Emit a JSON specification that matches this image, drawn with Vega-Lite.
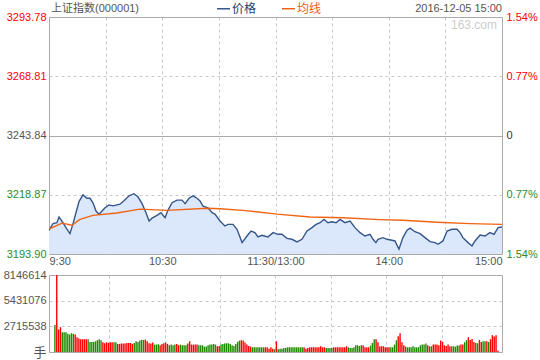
{
  "$schema": "https://vega.github.io/schema/vega-lite/v6.json",
  "padding": {"left": 2, "top": 0, "right": 2, "bottom": 2},
  "background": "white",
  "config": {
    "font": "Liberation Sans, Noto Sans CJK SC, sans-serif",
    "view": {"stroke": "#aaaaaa", "strokeWidth": 1},
    "axis": {"labelFont": "Liberation Sans, Noto Sans CJK SC", "labelFontSize": 11, "labelColor": "#555555", "ticks": false, "domain": false, "title": null, "labelOverlap": false}
  },
  "spacing": 21,
  "bounds": "flush",
  "resolve": {"scale": {"color": "independent"}, "legend": {"color": "independent"}},
  "datasets": {
    "line": [
      {"m":0,"v":3203.9,"s":"价格"},{"m":2.1,"v":3206.7,"s":"价格"},{"m":4.2,"v":3207.1,"s":"价格"},{"m":5.3,"v":3209.5,"s":"价格"},{"m":7.4,"v":3207.1,"s":"价格"},{"m":9.0,"v":3205.0,"s":"价格"},{"m":11.1,"v":3202.5,"s":"价格"},{"m":12.7,"v":3206.6,"s":"价格"},{"m":14.3,"v":3211.3,"s":"价格"},{"m":15.9,"v":3216.0,"s":"价格"},{"m":18.0,"v":3218.8,"s":"价格"},{"m":20.1,"v":3217.4,"s":"价格"},{"m":21.7,"v":3217.4,"s":"价格"},{"m":23.3,"v":3215.5,"s":"价格"},{"m":24.9,"v":3212.0,"s":"价格"},{"m":26.5,"v":3210.7,"s":"价格"},{"m":28.1,"v":3212.0,"s":"价格"},{"m":29.7,"v":3213.4,"s":"价格"},{"m":31.8,"v":3214.6,"s":"价格"},{"m":33.9,"v":3214.2,"s":"价格"},{"m":37.6,"v":3214.9,"s":"价格"},{"m":39.7,"v":3216.3,"s":"价格"},{"m":42.4,"v":3218.4,"s":"价格"},{"m":45.0,"v":3219.3,"s":"价格"},{"m":47.2,"v":3217.9,"s":"价格"},{"m":49.3,"v":3215.1,"s":"价格"},{"m":51.4,"v":3211.3,"s":"价格"},{"m":53.0,"v":3207.8,"s":"价格"},{"m":54.6,"v":3209.0,"s":"价格"},{"m":57.2,"v":3210.2,"s":"价格"},{"m":59.3,"v":3211.3,"s":"价格"},{"m":61.5,"v":3209.2,"s":"价格"},{"m":63.0,"v":3212.3,"s":"价格"},{"m":65.2,"v":3215.5,"s":"价格"},{"m":67.8,"v":3216.6,"s":"价格"},{"m":70.5,"v":3216.6,"s":"价格"},{"m":72.1,"v":3215.1,"s":"价格"},{"m":74.2,"v":3217.4,"s":"价格"},{"m":76.3,"v":3218.4,"s":"价格"},{"m":78.4,"v":3217.4,"s":"价格"},{"m":80.0,"v":3216.3,"s":"价格"},{"m":81.6,"v":3214.1,"s":"价格"},{"m":84.2,"v":3213.4,"s":"价格"},{"m":86.4,"v":3211.3,"s":"价格"},{"m":87.9,"v":3210.7,"s":"价格"},{"m":90.6,"v":3207.8,"s":"价格"},{"m":93.2,"v":3205.7,"s":"价格"},{"m":94.8,"v":3206.4,"s":"价格"},{"m":97.5,"v":3206.4,"s":"价格"},{"m":99.6,"v":3204.3,"s":"价格"},{"m":102.3,"v":3198.7,"s":"价格"},{"m":104.9,"v":3201.5,"s":"价格"},{"m":107.0,"v":3203.6,"s":"价格"},{"m":109.1,"v":3202.9,"s":"价格"},{"m":110.7,"v":3201.1,"s":"价格"},{"m":112.8,"v":3201.8,"s":"价格"},{"m":116.0,"v":3201.1,"s":"价格"},{"m":118.7,"v":3202.9,"s":"价格"},{"m":121.3,"v":3202.2,"s":"价格"},{"m":123.4,"v":3202.2,"s":"价格"},{"m":126.1,"v":3200.5,"s":"价格"},{"m":128.7,"v":3200.1,"s":"价格"},{"m":131.4,"v":3199.0,"s":"价格"},{"m":134.0,"v":3200.1,"s":"价格"},{"m":136.7,"v":3203.6,"s":"价格"},{"m":139.3,"v":3205.0,"s":"价格"},{"m":141.5,"v":3206.4,"s":"价格"},{"m":143.6,"v":3207.1,"s":"价格"},{"m":145.7,"v":3208.5,"s":"价格"},{"m":147.8,"v":3207.1,"s":"价格"},{"m":149.9,"v":3207.5,"s":"价格"},{"m":152.1,"v":3207.1,"s":"价格"},{"m":154.2,"v":3208.5,"s":"价格"},{"m":156.8,"v":3207.1,"s":"价格"},{"m":159.5,"v":3207.8,"s":"价格"},{"m":162.1,"v":3205.0,"s":"价格"},{"m":164.8,"v":3202.9,"s":"价格"},{"m":167.4,"v":3201.5,"s":"价格"},{"m":170.1,"v":3202.2,"s":"价格"},{"m":171.7,"v":3200.1,"s":"价格"},{"m":173.2,"v":3198.7,"s":"价格"},{"m":174.3,"v":3200.1,"s":"价格"},{"m":177.0,"v":3200.8,"s":"价格"},{"m":179.1,"v":3200.1,"s":"价格"},{"m":181.7,"v":3199.7,"s":"价格"},{"m":183.3,"v":3199.4,"s":"价格"},{"m":185.4,"v":3195.9,"s":"价格"},{"m":187.5,"v":3200.8,"s":"价格"},{"m":189.7,"v":3203.9,"s":"价格"},{"m":191.3,"v":3204.8,"s":"价格"},{"m":193.9,"v":3203.3,"s":"价格"},{"m":196.6,"v":3202.5,"s":"价格"},{"m":199.2,"v":3200.8,"s":"价格"},{"m":201.9,"v":3199.1,"s":"价格"},{"m":204.5,"v":3198.7,"s":"价格"},{"m":206.1,"v":3198.0,"s":"价格"},{"m":208.7,"v":3199.4,"s":"价格"},{"m":210.9,"v":3203.6,"s":"价格"},{"m":213.5,"v":3204.3,"s":"价格"},{"m":216.2,"v":3204.3,"s":"价格"},{"m":217.8,"v":3202.9,"s":"价格"},{"m":219.3,"v":3200.8,"s":"价格"},{"m":222.0,"v":3198.7,"s":"价格"},{"m":224.1,"v":3197.3,"s":"价格"},{"m":225.7,"v":3199.4,"s":"价格"},{"m":228.4,"v":3201.9,"s":"价格"},{"m":231.0,"v":3201.5,"s":"价格"},{"m":233.6,"v":3202.9,"s":"价格"},{"m":235.8,"v":3202.2,"s":"价格"},{"m":237.9,"v":3205.0,"s":"价格"},{"m":240,"v":3205.3,"s":"价格"},
      {"m":0,"v":3204.4,"s":"均线"},{"m":6.9,"v":3206.9,"s":"均线"},{"m":12.2,"v":3206.0,"s":"均线"},{"m":16.4,"v":3208.5,"s":"均线"},{"m":23.3,"v":3210.2,"s":"均线"},{"m":36.0,"v":3211.2,"s":"均线"},{"m":48.2,"v":3212.8,"s":"均线"},{"m":62.5,"v":3212.3,"s":"均线"},{"m":83.7,"v":3213.2,"s":"均线"},{"m":90.6,"v":3213.0,"s":"均线"},{"m":102.8,"v":3212.3,"s":"均线"},{"m":120.8,"v":3210.7,"s":"均线"},{"m":138.3,"v":3209.5,"s":"均线"},{"m":155.8,"v":3209.2,"s":"均线"},{"m":175.4,"v":3208.4,"s":"均线"},{"m":187.5,"v":3208.1,"s":"均线"},{"m":205.6,"v":3207.3,"s":"均线"},{"m":223.0,"v":3206.7,"s":"均线"},{"m":240,"v":3206.4,"s":"均线"}
    ],
    "vol": [
      {"m":0,"vol":2846000,"c":"g"},{"m":1,"vol":8146614,"c":"r"},{"m":2,"vol":2383500,"c":"r"},{"m":3,"vol":2632500,"c":"r"},{"m":4,"vol":2099000,"c":"g"},{"m":5,"vol":2099000,"c":"g"},{"m":6,"vol":2099000,"c":"g"},{"m":7,"vol":1921000,"c":"g"},{"m":8,"vol":1850000,"c":"g"},{"m":9,"vol":1992000,"c":"g"},
      {"m":10,"vol":1921000,"c":"g"},{"m":11,"vol":1850000,"c":"r"},{"m":12,"vol":1565000,"c":"r"},{"m":13,"vol":1423000,"c":"r"},{"m":14,"vol":1352000,"c":"r"},{"m":15,"vol":1352000,"c":"r"},{"m":16,"vol":1352000,"c":"r"},{"m":17,"vol":1352000,"c":"r"},{"m":18,"vol":1352000,"c":"g"},{"m":19,"vol":1067000,"c":"g"},
      {"m":20,"vol":1067000,"c":"g"},{"m":21,"vol":1067000,"c":"g"},{"m":22,"vol":1138000,"c":"g"},{"m":23,"vol":1245000,"c":"g"},{"m":24,"vol":1352000,"c":"g"},{"m":25,"vol":1245000,"c":"g"},{"m":26,"vol":1032000,"c":"r"},{"m":27,"vol":925000,"c":"r"},{"m":28,"vol":1032000,"c":"r"},{"m":29,"vol":960000,"c":"r"},
      {"m":30,"vol":1032000,"c":"r"},{"m":31,"vol":1032000,"c":"r"},{"m":32,"vol":1032000,"c":"g"},{"m":33,"vol":1032000,"c":"g"},{"m":34,"vol":854000,"c":"r"},{"m":35,"vol":854000,"c":"r"},{"m":36,"vol":889000,"c":"r"},{"m":37,"vol":889000,"c":"r"},{"m":38,"vol":889000,"c":"r"},{"m":39,"vol":960000,"c":"r"},
      {"m":40,"vol":960000,"c":"r"},{"m":41,"vol":960000,"c":"r"},{"m":42,"vol":854000,"c":"r"},{"m":43,"vol":960000,"c":"g"},{"m":44,"vol":1138000,"c":"g"},{"m":45,"vol":1067000,"c":"g"},{"m":46,"vol":1210000,"c":"g"},{"m":47,"vol":1281000,"c":"g"},{"m":48,"vol":1281000,"c":"g"},{"m":49,"vol":1316000,"c":"r"},
      {"m":50,"vol":1138000,"c":"r"},{"m":51,"vol":925000,"c":"r"},{"m":52,"vol":889000,"c":"r"},{"m":53,"vol":996000,"c":"r"},{"m":54,"vol":783000,"c":"g"},{"m":55,"vol":783000,"c":"g"},{"m":56,"vol":818000,"c":"g"},{"m":57,"vol":711500,"c":"r"},{"m":58,"vol":854000,"c":"r"},{"m":59,"vol":925000,"c":"r"},
      {"m":60,"vol":996000,"c":"r"},{"m":61,"vol":854000,"c":"r"},{"m":62,"vol":711500,"c":"g"},{"m":63,"vol":783000,"c":"g"},{"m":64,"vol":711500,"c":"g"},{"m":65,"vol":783000,"c":"g"},{"m":66,"vol":854000,"c":"r"},{"m":67,"vol":711500,"c":"r"},{"m":68,"vol":783000,"c":"g"},{"m":69,"vol":711500,"c":"g"},
      {"m":70,"vol":711500,"c":"g"},{"m":71,"vol":711500,"c":"g"},{"m":72,"vol":889000,"c":"r"},{"m":73,"vol":1138000,"c":"r"},{"m":74,"vol":783000,"c":"r"},{"m":75,"vol":783000,"c":"r"},{"m":76,"vol":783000,"c":"r"},{"m":77,"vol":783000,"c":"r"},{"m":78,"vol":711500,"c":"g"},{"m":79,"vol":711500,"c":"g"},
      {"m":80,"vol":711500,"c":"g"},{"m":81,"vol":569000,"c":"g"},{"m":82,"vol":569000,"c":"g"},{"m":83,"vol":711500,"c":"g"},{"m":84,"vol":783000,"c":"g"},{"m":85,"vol":783000,"c":"g"},{"m":86,"vol":854000,"c":"g"},{"m":87,"vol":783000,"c":"g"},{"m":88,"vol":605000,"c":"r"},{"m":89,"vol":640000,"c":"r"},
      {"m":90,"vol":783000,"c":"g"},{"m":91,"vol":854000,"c":"g"},{"m":92,"vol":889000,"c":"g"},{"m":93,"vol":925000,"c":"g"},{"m":94,"vol":925000,"c":"g"},{"m":95,"vol":854000,"c":"g"},{"m":96,"vol":711500,"c":"g"},{"m":97,"vol":640000,"c":"g"},{"m":98,"vol":854000,"c":"g"},{"m":99,"vol":1067000,"c":"g"},
      {"m":100,"vol":1210000,"c":"g"},{"m":101,"vol":1245000,"c":"r"},{"m":102,"vol":1210000,"c":"r"},{"m":103,"vol":996000,"c":"r"},{"m":104,"vol":783000,"c":"r"},{"m":105,"vol":640000,"c":"r"},{"m":106,"vol":569000,"c":"r"},{"m":107,"vol":498000,"c":"g"},{"m":108,"vol":498000,"c":"g"},{"m":109,"vol":498000,"c":"g"},
      {"m":110,"vol":498000,"c":"g"},{"m":111,"vol":498000,"c":"g"},{"m":112,"vol":498000,"c":"g"},{"m":113,"vol":498000,"c":"g"},{"m":114,"vol":498000,"c":"r"},{"m":115,"vol":498000,"c":"r"},{"m":116,"vol":356000,"c":"r"},{"m":117,"vol":498000,"c":"r"},{"m":118,"vol":356000,"c":"r"},{"m":119,"vol":285000,"c":"g"},
      {"m":120,"vol":1138000,"c":"r"},{"m":121,"vol":285000,"c":"g"},{"m":122,"vol":356000,"c":"g"},{"m":123,"vol":356000,"c":"g"},{"m":124,"vol":427000,"c":"g"},{"m":125,"vol":427000,"c":"g"},{"m":126,"vol":498000,"c":"g"},{"m":127,"vol":498000,"c":"g"},{"m":128,"vol":498000,"c":"g"},{"m":129,"vol":498000,"c":"g"},
      {"m":130,"vol":498000,"c":"g"},{"m":131,"vol":498000,"c":"g"},{"m":132,"vol":498000,"c":"g"},{"m":133,"vol":498000,"c":"g"},{"m":134,"vol":498000,"c":"g"},{"m":135,"vol":498000,"c":"r"},{"m":136,"vol":356000,"c":"r"},{"m":137,"vol":427000,"c":"r"},{"m":138,"vol":498000,"c":"r"},{"m":139,"vol":498000,"c":"r"},
      {"m":140,"vol":498000,"c":"r"},{"m":141,"vol":498000,"c":"r"},{"m":142,"vol":498000,"c":"r"},{"m":143,"vol":498000,"c":"r"},{"m":144,"vol":605000,"c":"r"},{"m":145,"vol":498000,"c":"r"},{"m":146,"vol":498000,"c":"r"},{"m":147,"vol":427000,"c":"g"},{"m":148,"vol":427000,"c":"g"},{"m":149,"vol":427000,"c":"g"},
      {"m":150,"vol":427000,"c":"g"},{"m":151,"vol":498000,"c":"r"},{"m":152,"vol":498000,"c":"r"},{"m":153,"vol":498000,"c":"r"},{"m":154,"vol":498000,"c":"r"},{"m":155,"vol":498000,"c":"r"},{"m":156,"vol":498000,"c":"r"},{"m":157,"vol":498000,"c":"r"},{"m":158,"vol":605000,"c":"r"},{"m":159,"vol":498000,"c":"g"},
      {"m":160,"vol":427000,"c":"g"},{"m":161,"vol":427000,"c":"g"},{"m":162,"vol":498000,"c":"g"},{"m":163,"vol":711500,"c":"g"},{"m":164,"vol":711500,"c":"g"},{"m":165,"vol":640000,"c":"g"},{"m":166,"vol":711500,"c":"g"},{"m":167,"vol":711500,"c":"r"},{"m":168,"vol":498000,"c":"r"},{"m":169,"vol":498000,"c":"r"},
      {"m":170,"vol":498000,"c":"r"},{"m":171,"vol":676000,"c":"g"},{"m":172,"vol":960000,"c":"g"},{"m":173,"vol":1352000,"c":"g"},{"m":174,"vol":1352000,"c":"r"},{"m":175,"vol":1032000,"c":"r"},{"m":176,"vol":605000,"c":"r"},{"m":177,"vol":605000,"c":"r"},{"m":178,"vol":605000,"c":"r"},{"m":179,"vol":498000,"c":"r"},
      {"m":180,"vol":498000,"c":"r"},{"m":181,"vol":498000,"c":"r"},{"m":182,"vol":498000,"c":"g"},{"m":183,"vol":498000,"c":"g"},{"m":184,"vol":783000,"c":"g"},{"m":185,"vol":1245000,"c":"g"},{"m":186,"vol":1672000,"c":"r"},{"m":187,"vol":1992000,"c":"r"},{"m":188,"vol":1032000,"c":"r"},{"m":189,"vol":711500,"c":"r"},
      {"m":190,"vol":569000,"c":"g"},{"m":191,"vol":498000,"c":"g"},{"m":192,"vol":498000,"c":"g"},{"m":193,"vol":498000,"c":"g"},{"m":194,"vol":605000,"c":"g"},{"m":195,"vol":498000,"c":"g"},{"m":196,"vol":498000,"c":"g"},{"m":197,"vol":498000,"c":"g"},{"m":198,"vol":711500,"c":"g"},{"m":199,"vol":783000,"c":"g"},
      {"m":200,"vol":783000,"c":"g"},{"m":201,"vol":889000,"c":"g"},{"m":202,"vol":711500,"c":"r"},{"m":203,"vol":605000,"c":"g"},{"m":204,"vol":605000,"c":"g"},{"m":205,"vol":783000,"c":"r"},{"m":206,"vol":783000,"c":"r"},{"m":207,"vol":783000,"c":"r"},{"m":208,"vol":711500,"c":"r"},{"m":209,"vol":1210000,"c":"r"},
      {"m":210,"vol":1067000,"c":"r"},{"m":211,"vol":711500,"c":"r"},{"m":212,"vol":640000,"c":"r"},{"m":213,"vol":783000,"c":"r"},{"m":214,"vol":605000,"c":"r"},{"m":215,"vol":605000,"c":"g"},{"m":216,"vol":605000,"c":"g"},{"m":217,"vol":569000,"c":"g"},{"m":218,"vol":676000,"c":"g"},{"m":219,"vol":676000,"c":"g"},
      {"m":220,"vol":783000,"c":"r"},{"m":221,"vol":783000,"c":"r"},{"m":222,"vol":1032000,"c":"g"},{"m":223,"vol":1245000,"c":"g"},{"m":224,"vol":1565000,"c":"r"},{"m":225,"vol":1281000,"c":"r"},{"m":226,"vol":1387000,"c":"r"},{"m":227,"vol":1067000,"c":"r"},{"m":228,"vol":960000,"c":"g"},{"m":229,"vol":925000,"c":"g"},
      {"m":230,"vol":1281000,"c":"r"},{"m":231,"vol":1067000,"c":"r"},{"m":232,"vol":1138000,"c":"g"},{"m":233,"vol":1138000,"c":"g"},{"m":234,"vol":1138000,"c":"r"},{"m":235,"vol":1067000,"c":"g"},{"m":236,"vol":1352000,"c":"r"},{"m":237,"vol":1779000,"c":"r"},{"m":238,"vol":1636000,"c":"r"},{"m":239,"vol":1779000,"c":"r"},
      {"m":240,"vol":142000,"c":"r"}
    ]
  },
  "vconcat": [
    {
      "width": 453,
      "height": 237,
      "layer": [
        {
          "data": {"name": "line"},
          "transform": [{"filter": "datum.s === '价格'"}],
          "mark": {"type": "area", "color": "#dbe7fa", "opacity": 1, "clip": true},
          "encoding": {
            "x": {"field": "m", "type": "quantitative", "scale": {"domain": [0, 240], "nice": false, "zero": false},
              "axis": {"values": [0, 30, 60, 90, 120, 150, 180, 210, 240], "labelFlush": true, "labelPadding": 1,
                "labelExpr": "datum.value == 0 ? '9:30' : datum.value == 60 ? '10:30' : datum.value == 120 ? '11:30/13:00' : datum.value == 180 ? '14:00' : datum.value == 240 ? '15:00' : ''",
                "grid": true, "gridDash": [3, 3], "gridColor": "#c8c8c8",
                "gridOpacity": {"condition": {"test": "datum.value == 0 || datum.value == 240", "value": 0}, "value": 1}}},
            "y": {"field": "v", "type": "quantitative", "scale": {"domain": [3193.9, 3293.78], "nice": false, "zero": false},
              "axis": {"orient": "left", "values": [3193.9, 3218.87, 3243.84, 3268.81, 3293.78], "format": ".2f", "labelPadding": 3,
                "grid": true,
                "gridColor": {"condition": {"test": "abs(datum.value - 3243.84) < 0.01", "value": "#aaaaaa"}, "value": "#c8c8c8"},
                "gridDash": {"condition": {"test": "abs(datum.value - 3243.84) < 0.01", "value": []}, "value": [3, 3]},
                "gridOpacity": {"condition": {"test": "datum.value < 3194 || datum.value > 3293", "value": 0}, "value": 1},
                "labelColor": {"condition": [{"test": "datum.value > 3243.85", "value": "#ff0000"}, {"test": "datum.value < 3243.83", "value": "#2a8c2a"}], "value": "#555555"}}},
            "y2": {"datum": 3193.9}
          }
        },
        {
          "data": {"name": "line"},
          "mark": {"type": "line", "strokeWidth": 1.4, "clip": true},
          "encoding": {
            "x": {"field": "m", "type": "quantitative"},
            "y": {"field": "v", "type": "quantitative",
              "axis": {"orient": "right", "values": [3193.9, 3218.87, 3243.84, 3268.81, 3293.78], "labelPadding": 4, "grid": false,
                "labelExpr": "abs(datum.value - 3243.84) < 0.01 ? '0' : format(abs(datum.value - 3243.84) / 3243.84 * 100, '.2f') + '%'",
                "labelColor": {"condition": [{"test": "datum.value > 3243.85", "value": "#ff0000"}, {"test": "datum.value < 3243.83", "value": "#2a8c2a"}], "value": "#333333"}}},
            "color": {"field": "s", "type": "nominal", "sort": ["价格", "均线"],
              "scale": {"domain": ["价格", "均线"], "range": ["#34568c", "#f06414"]},
              "legend": {"orient": "none", "legendX": 167, "legendY": -16, "direction": "horizontal", "title": null,
                "symbolType": "stroke", "symbolSize": 169, "symbolStrokeWidth": 1.5, "labelFontSize": 12, "labelOffset": 1,
                "columnPadding": 22, "labelFont": "Noto Sans CJK SC",
                "encode": {"labels": {"update": {"fill": {"signal": "datum.value === '价格' ? '#1f3d70' : '#ee6010'"}}}}}}
          }
        },
        {
          "data": {"values": [{"t": "上证指数(000001)"}]},
          "mark": {"type": "text", "align": "left", "baseline": "bottom", "dy": -3, "dx": 2, "fontSize": 11, "color": "#555555", "font": "Liberation Sans, Noto Sans CJK SC"},
          "encoding": {"x": {"datum": 0}, "y": {"datum": 3293.78, "axis": null}, "text": {"field": "t"}}
        },
        {
          "data": {"values": [{"t": "2016-12-05 15:00"}]},
          "mark": {"type": "text", "align": "right", "baseline": "bottom", "dy": -3, "fontSize": 11, "color": "#555555", "font": "Liberation Sans"},
          "encoding": {"x": {"datum": 240}, "y": {"datum": 3293.78, "axis": null}, "text": {"field": "t"}}
        },
        {
          "data": {"values": [{"t": "163.com"}]},
          "mark": {"type": "text", "align": "right", "baseline": "middle", "dx": -5, "dy": 8, "fontSize": 12, "color": "#cccccc", "font": "Liberation Sans"},
          "encoding": {"x": {"datum": 240}, "y": {"datum": 3293.78, "axis": null}, "text": {"field": "t"}}
        }
      ],
      "resolve": {"axis": {"y": "independent"}}
    },
    {
      "width": 453,
      "height": 77,
      "data": {"name": "vol"},
      "mark": {"type": "bar", "size": 1.4, "xOffset": 0.9},
      "encoding": {
        "x": {"field": "m", "type": "quantitative", "scale": {"domain": [0, 240], "nice": false, "zero": false},
          "axis": {"values": [0, 30, 60, 90, 120, 150, 180, 210, 240], "labels": false, "grid": true, "gridDash": [3, 3], "gridColor": "#c8c8c8",
            "gridOpacity": {"condition": {"test": "datum.value == 0 || datum.value == 240", "value": 0}, "value": 1}}},
        "y": {"field": "vol", "type": "quantitative", "scale": {"domain": [0, 8146614], "nice": false},
          "axis": {"values": [0, 2715538, 5431076, 8146614], "format": "d", "labelPadding": 3,
            "labelExpr": "datum.value == 0 ? '手' : datum.label",
            "labelFontSize": {"condition": {"test": "datum.value == 0", "value": 13}, "value": 11},
            "grid": true, "gridDash": [3, 3], "gridColor": "#c8c8c8",
            "gridOpacity": {"condition": {"test": "datum.value == 0 || datum.value > 8000000", "value": 0}, "value": 1}}},
        "color": {"field": "c", "type": "nominal", "scale": {"domain": ["r", "g"], "range": ["#ff0000", "#1f8a00"]}, "legend": null}
      }
    }
  ]
}
